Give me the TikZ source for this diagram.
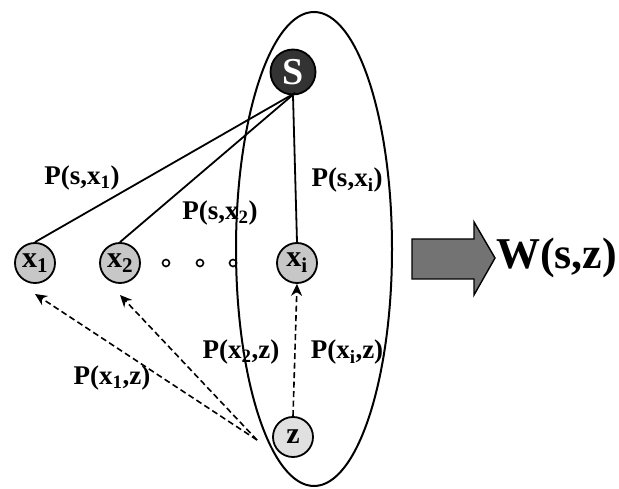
\documentclass[tikz,border=0pt]{standalone}
\usepackage{fontspec}
\setmainfont{Liberation Serif}
\usetikzlibrary{arrows.meta}
\tikzset{
  vtx/.style={circle,draw,line width=1.8pt,fill=black!22,minimum size=40pt,inner sep=0pt,font=\fontsize{30}{30}\selectfont\bfseries},
  lbl/.style={font=\fontsize{27}{27}\selectfont\bfseries,inner sep=1pt},
  prob/.style={line width=1.6pt,dash pattern=on 6pt off 3.5pt,-{Stealth[length=12pt,width=11pt]}},
  link/.style={line width=1.8pt},
}
\begin{document}
\begin{tikzpicture}[x=1pt,y=-1pt]%
\useasboundingbox (0,0) rectangle (619,489);
% set containing s and z
\draw[line width=2pt] (314,249) ellipse (78 and 237);
% nodes
\node[vtx,fill=black!80,text=white,minimum size=45pt,font=\fontsize{38}{38}\selectfont\bfseries] (s) at (293,72) {S};
\node[vtx] (x1) at (35,263) {x$_{\mathbf 1}$};
\node[vtx] (x2) at (120,263) {x$_{\mathbf 2}$};
\node[vtx] (xi) at (297,263) {x$_{\mathbf i}$};
\node[vtx,fill=black!12] (z) at (293,437) {z};
\foreach \d/\px in {1/166,2/200,3/233}
  \node[circle,draw,line width=1.6pt,inner sep=0pt,minimum size=7pt] (dot\d) at (\px,263) {};
\coordinate (zl) at (257,440);
\coordinate (sb) at (295,93);
% edges from s
\draw[link] (sb) -- (x1.north);
\draw[link] (sb) -- (x2.north);
\draw[link] (s.south) -- (xi.north);
% paths to z
\draw[prob] (zl) -- (35,294);
\draw[prob] (zl) -- (120,295);
\draw[prob] (z.north) -- (xi.south);
% labels
\node[lbl] (psx1) at (82,178) {P(s,x$_{\mathbf 1}$)};
\node[lbl] (psx2) at (220,213) {P(s,x$_{\mathbf 2}$)};
\node[lbl] (psxi) at (347,180) {P(s,x$_{\mathbf i}$)};
\node[lbl] (px1z) at (112,378) {P(x$_{\mathbf 1}$,z)};
\node[lbl] (px2z) at (241,352) {P(x$_{\mathbf 2}$,z)};
\node[lbl] (pxiz) at (347,352) {P(x$_{\mathbf i}$,z)};
% result
\draw[line width=1.4pt,fill=black!55] (412,239) -- (474,239) -- (474,222) -- (495,258)
  -- (474,295) -- (474,279) -- (412,279) -- cycle;
\node[lbl,anchor=west,font=\fontsize{44}{44}\selectfont\bfseries] (w) at (495,258) {W(s,z)};
\end{tikzpicture}
\end{document}
